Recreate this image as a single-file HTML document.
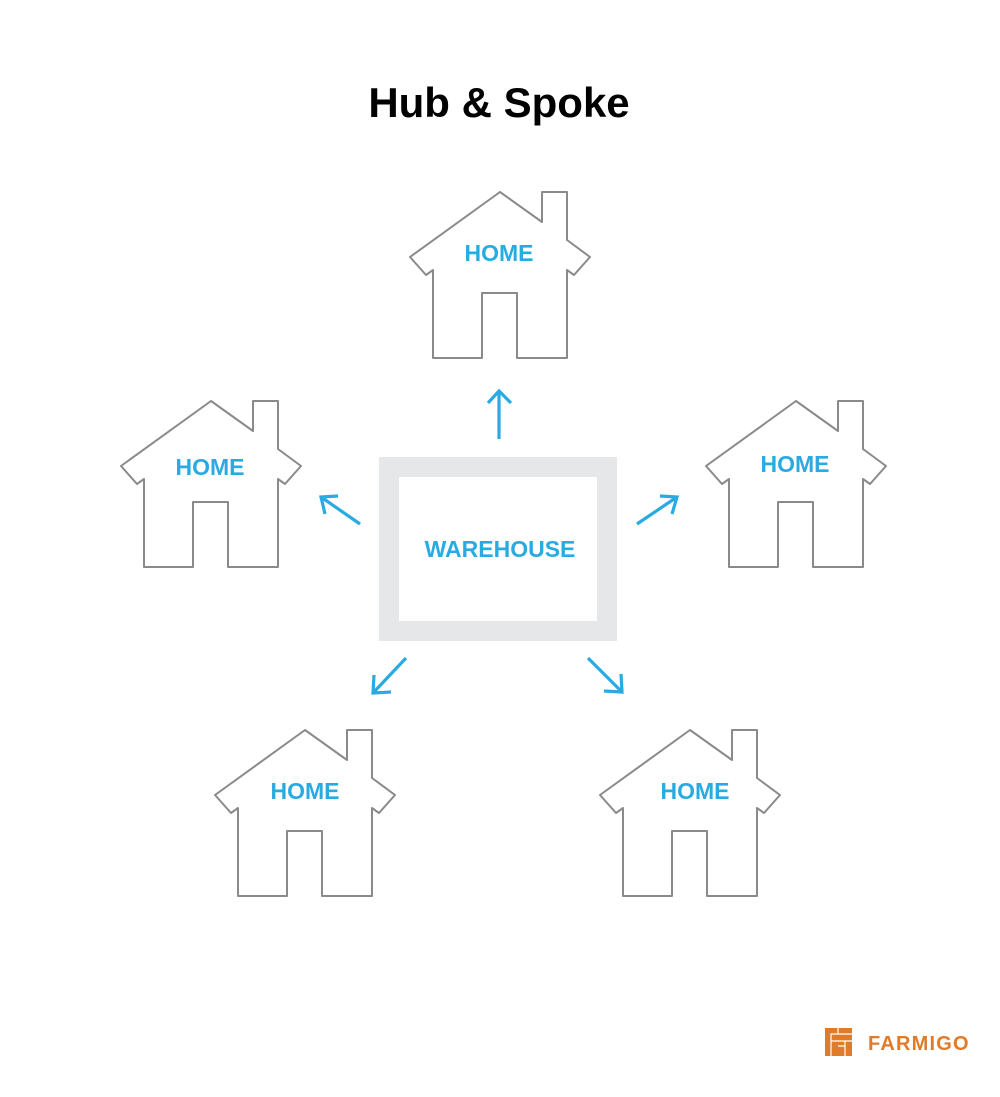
<!DOCTYPE html>
<html><head><meta charset="utf-8"><style>
html,body{margin:0;padding:0;background:#fff;}
</style></head><body>
<svg width="1000" height="1092" viewBox="0 0 1000 1092" xmlns="http://www.w3.org/2000/svg">
<defs>
<g id="h">
<path d="M0,0 L42,30 L42,0 L67,0 L67,48 L90,65 L74,83 L67,78 L67,166 L17,166 L17,101 L-18,101 L-18,166 L-67,166 L-67,78 L-74,83 L-90,65 Z" fill="#fff" stroke="#8a8a8a" stroke-width="2" stroke-linejoin="round"/>
</g>
</defs>
<text x="499" y="117" text-anchor="middle" font-family="Liberation Sans, sans-serif" font-weight="bold" font-size="42" fill="#000">Hub &amp; Spoke</text>
<use href="#h" x="500" y="192"/>
<use href="#h" x="211" y="401"/>
<use href="#h" x="796" y="401"/>
<use href="#h" x="305" y="730"/>
<use href="#h" x="690" y="730"/>
<rect x="389" y="467" width="218" height="164" fill="#fff" stroke="#e6e7e8" stroke-width="20"/>
<g font-family="Liberation Sans, sans-serif" font-weight="bold" font-size="23" fill="#29abe2" text-anchor="middle">
<text x="499" y="261">HOME</text>
<text x="210" y="475">HOME</text>
<text x="795" y="472">HOME</text>
<text x="305" y="799">HOME</text>
<text x="695" y="799">HOME</text>
<text x="500" y="557">WAREHOUSE</text>
</g>
<g stroke="#29abe2" stroke-width="3.2" fill="none" stroke-linecap="butt">
<path d="M499,439 V391 M488,403 L499,391 L511,403"/>
<path d="M360,524 L321,497 M338,496 L321,497 L325,514"/>
<path d="M637,524 L677,497 M660,496 L677,497 L672,514"/>
<path d="M406,658 L373,693 M374,675 L373,693 L391,692"/>
<path d="M588,658 L622,692 M621,674 L622,692 L604,691"/>
</g>
<g fill="#e07b2a">
<rect x="825" y="1028" width="27" height="28"/>
<g stroke="#fff" stroke-width="1.2" fill="none">
<path d="M831,1056 V1034 H852 M831,1041 H852 M838,1034 V1028 M845,1041 V1056 M838,1046 H845"/>
</g>
<text x="868" y="1050" font-family="Liberation Sans, sans-serif" font-weight="bold" font-size="20" letter-spacing="1.2">FARMIGO</text>
</g>
</svg>
</body></html>
